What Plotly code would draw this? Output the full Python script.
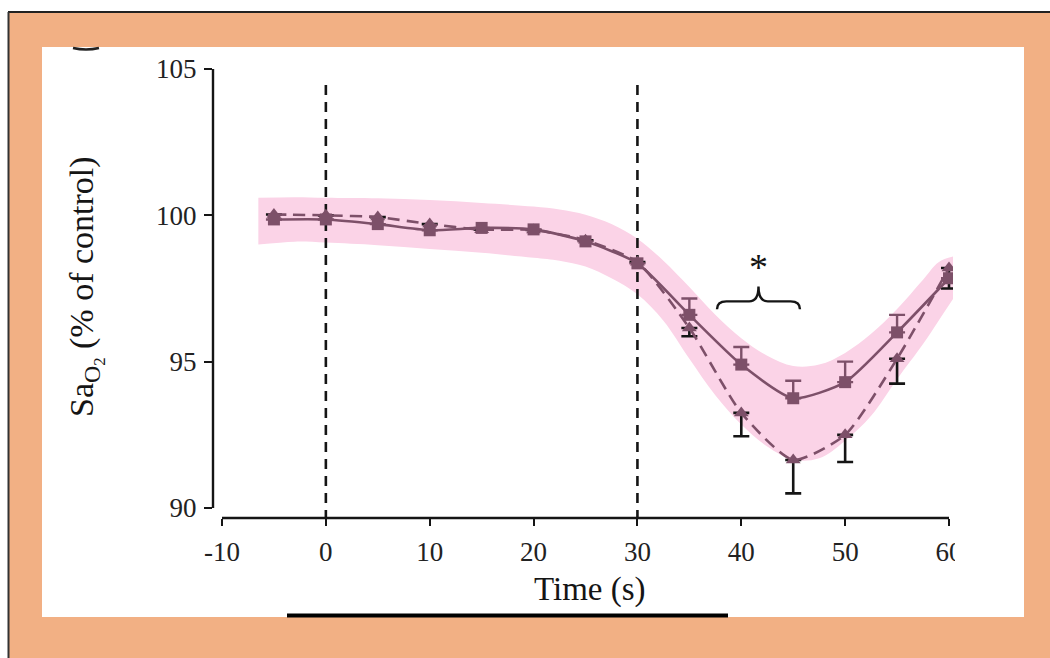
import plotly.graph_objects as go

# ---------------- data ----------------
time_s = [-5, 0, 5, 10, 15, 20, 25, 30, 35, 40, 45, 50, 55, 60]
sq_vals = [99.86, 99.86, 99.70, 99.49, 99.57, 99.52, 99.11, 98.36, 96.60, 94.90, 93.75, 94.30, 96.00, 97.85]
sq_err_up = [None, None, None, None, None, None, None, None, 0.56, 0.60, 0.60, 0.70, 0.60, None]
tri_vals = [100.03, 100.00, 99.94, 99.70, 99.51, 99.50, 99.15, 98.40, 96.15, 93.25, 91.64, 92.50, 95.10, 98.20]
tri_err_down = [None, None, None, None, None, None, None, None, 0.28, 0.80, 1.14, 0.93, 0.85, 0.70]

band_t = [-6.5, -3, 0, 5, 10, 15, 20, 22.5, 25, 27.5, 30, 32.5, 35, 37.5, 40, 42.5, 45, 47.5, 50,
          52.5, 55, 57.5, 59, 60.5]
band_upper = [100.60, 100.62, 100.60, 100.58, 100.52, 100.42, 100.30, 100.20, 100.02, 99.70, 99.20,
              98.45, 97.55, 96.60, 95.80, 95.20, 94.85, 94.90, 95.30, 95.95, 96.80, 97.80, 98.40, 98.60]
band_lower = [99.00, 99.10, 99.07, 98.98, 98.85, 98.72, 98.55, 98.45, 98.25, 97.85, 97.30,
              96.40, 95.10, 93.85, 92.85, 92.10, 91.65, 91.70, 92.30, 93.15, 94.40, 95.60, 96.40, 97.20]

event_times = [0, 30]
x_ticks = [-10, 0, 10, 20, 30, 40, 50, 60]
y_ticks = [90, 95, 100, 105]
brace_span = [37.66, 45.65]   # x extent of significance brace
brace_y = [96.79, 97.06, 97.57]  # end, bar, peak

# ---------------- style ----------------
MAUVE = "#7D5069"
PINK = "#FBD3E7"
ORANGE = "#F2B084"
FONT = "Liberation Serif"
INK = "#151515"

W, H = 1050, 658
L, R, T, B = 213, 953, 63, 518


def PX(px):
    return (px - L) / (R - L)


def PY(py):
    return (B - py) / (B - T)


fig = go.Figure()

# pink highlight band
fig.add_trace(go.Scatter(x=band_t, y=band_lower, mode="lines",
                         line=dict(width=0, color=PINK, shape="spline", smoothing=1.0),
                         hoverinfo="skip", showlegend=False))
fig.add_trace(go.Scatter(x=band_t, y=band_upper, mode="lines", fill="tonexty", fillcolor=PINK,
                         line=dict(width=0, color=PINK, shape="spline", smoothing=1.0),
                         hoverinfo="skip", showlegend=False))

# vertical dashed event lines
for t in event_times:
    fig.add_trace(go.Scatter(x=[t, t], y=[104.45, 89.66], mode="lines",
                             line=dict(color=INK, width=2.6, dash="10px,7px"),
                             hoverinfo="skip", showlegend=False))

# triangles (dashed)
fig.add_trace(go.Scatter(
    x=time_s, y=tri_vals, mode="lines+markers",
    line=dict(color=MAUVE, width=2.6, dash="12px,7px", shape="spline", smoothing=0.6),
    marker=dict(symbol="triangle-up", size=13, color=MAUVE),
    error_y=dict(type="data", symmetric=False, array=[0] * len(tri_err_down),
                 arrayminus=tri_err_down, color=INK, thickness=2.6, width=8),
    showlegend=False))

# squares (solid)
fig.add_trace(go.Scatter(
    x=time_s, y=sq_vals, mode="lines+markers",
    line=dict(color=MAUVE, width=2.6, shape="spline", smoothing=0.6),
    marker=dict(symbol="square", size=12, color=MAUVE),
    error_y=dict(type="data", symmetric=False, array=sq_err_up,
                 arrayminus=[None] * len(sq_err_up), color=MAUVE, thickness=2.4, width=8),
    showlegend=False))

shapes = [
    # outer orange frame with black top/left edges
    dict(type="rect", xref="paper", yref="paper", x0=PX(8), x1=PX(1050), y0=PY(12), y1=PY(658),
         fillcolor=ORANGE, line=dict(width=0), layer="below"),
    dict(type="line", xref="paper", yref="paper", x0=PX(8), x1=PX(1050), y0=PY(12), y1=PY(12),
         line=dict(color="#222222", width=2), layer="below"),
    dict(type="line", xref="paper", yref="paper", x0=PX(8.5), x1=PX(8.5), y0=PY(12), y1=PY(658),
         line=dict(color="#333333", width=2), layer="below"),
    # white panel
    dict(type="rect", xref="paper", yref="paper", x0=PX(42), x1=PX(1024), y0=PY(47), y1=PY(617),
         fillcolor="white", line=dict(width=0), layer="below"),
    # black bar at bottom edge of panel
    dict(type="rect", xref="paper", yref="paper", x0=PX(287), x1=PX(728), y0=PY(613.5), y1=PY(617.5),
         fillcolor="black", line=dict(width=0), layer="above"),
    # white cover clipping the '60' label
    dict(type="rect", xref="paper", yref="paper", x0=PX(955), x1=PX(1005), y0=PY(528), y1=PY(580),
         fillcolor="white", line=dict(width=0), layer="above"),
    # sliver of the panel letter at top-left
    dict(type="path", xref="paper", yref="paper",
         path=f"M {PX(73)},{PY(48)} Q {PX(86)},{PY(51)} {PX(99)},{PY(48)}",
         line=dict(color="#222222", width=2.5), layer="above"),
    # axis lines
    dict(type="line", xref="x domain", yref="y", x0=0, x1=0, y0=y_ticks[0], y1=y_ticks[-1],
         line=dict(color=INK, width=2.4)),
    dict(type="line", xref="x", yref="y domain", x0=x_ticks[0], x1=x_ticks[-1], y0=0, y1=0,
         line=dict(color=INK, width=2.4)),
]

# significance brace
bx0, bx1 = brace_span
bxc = (bx0 + bx1) / 2
yE, yM, yP = brace_y
d = 0.9
brace = (f"M {bx0},{yE} Q {bx0},{yM} {bx0 + d},{yM} L {bxc - d},{yM} Q {bxc},{yM} {bxc},{yP} "
         f"Q {bxc},{yM} {bxc + d},{yM} L {bx1 - d},{yM} Q {bx1},{yM} {bx1},{yE}")
shapes.append(dict(type="path", xref="x", yref="y", path=brace, line=dict(color=INK, width=2.4)))

annotations = [
    dict(x=bxc, y=98.25, xref="x", yref="y", text="*", showarrow=False, xanchor="center", yanchor="middle",
         font=dict(family=FONT, size=38, color=INK)),
    dict(x=PX(590), y=PY(589), xref="paper", yref="paper", text="Time (s)", showarrow=False,
         xanchor="center", yanchor="middle", font=dict(family=FONT, size=33, color=INK)),
    dict(x=PX(86), y=PY(287), xref="paper", yref="paper", textangle=-90,
         text="Sa<sub>O<sub>2</sub></sub> (% of control)", showarrow=False,
         xanchor="center", yanchor="middle", font=dict(family=FONT, size=34, color=INK)),
]

fig.update_layout(
    width=W, height=H,
    margin=dict(l=L, r=W - R, t=T, b=H - B, pad=0),
    paper_bgcolor="white", plot_bgcolor="rgba(0,0,0,0)",
    shapes=shapes, annotations=annotations, showlegend=False,
    xaxis=dict(range=[-10.867, 60.385], tickvals=x_ticks, ticktext=[str(v) for v in x_ticks],
               showgrid=False, zeroline=False, showline=False, ticks="outside", ticklen=7,
               tickwidth=2.2, tickcolor=INK, ticklabelstandoff=3,
               tickfont=dict(family=FONT, size=27, color="#222222")),
    yaxis=dict(range=[89.658, 105.205], tickvals=y_ticks, ticktext=[str(v) for v in y_ticks],
               showgrid=False, zeroline=False, showline=False, ticks="outside", ticklen=8,
               tickwidth=2.2, tickcolor=INK, ticklabelstandoff=2,
               tickfont=dict(family=FONT, size=27, color="#222222")),
)

fig.write_html("out.html")
